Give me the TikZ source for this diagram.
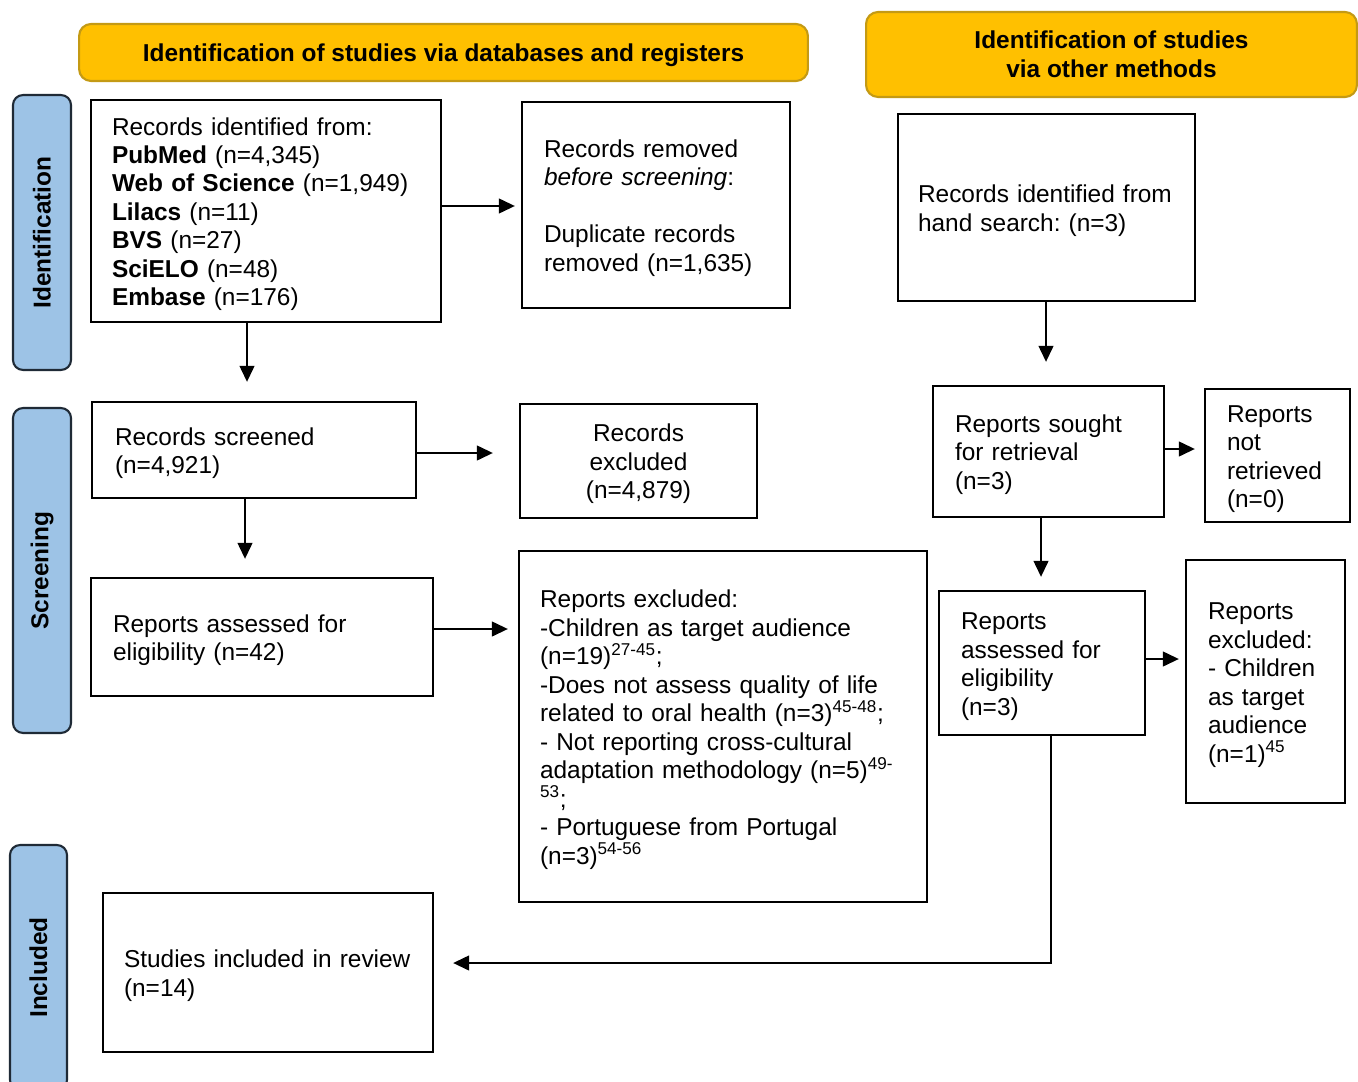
\documentclass[tikz,border=0pt]{standalone}
\usepackage{fontspec}
\setmainfont{Liberation Sans}
\usetikzlibrary{arrows.meta}
\definecolor{hdrfill}{HTML}{FFC000}
\definecolor{hdrline}{HTML}{C49A14}
\definecolor{sidefill}{HTML}{9DC3E6}
\definecolor{sideline}{HTML}{1F2A36}
\frenchspacing
\newcommand{\topstrut}{\rule{0pt}{13.6pt}}
\begin{document}
\begin{tikzpicture}[x=0.02cm,y=-0.02cm,
 font=\fontsize{13.9}{16.2}\selectfont,
 box/.style={draw=black,line width=1.4pt,align=left,inner ysep=0pt,execute at begin node={\topstrut}},
 cbox/.style={draw=black,line width=1.4pt,align=center,inner ysep=0pt,execute at begin node={\topstrut}},
 hdr/.style={draw=hdrline,fill=hdrfill,line width=1.2pt,rounded corners=0.24cm,align=center,inner sep=0pt,font=\fontsize{13.9}{16.2}\selectfont\bfseries},
 side/.style={draw=sideline,fill=sidefill,line width=1.2pt,rounded corners=0.2cm,rotate=90,inner sep=0pt,font=\fontsize{13.9}{16.2}\selectfont\bfseries},
 arr/.style={-{Triangle[length=0.32cm,width=0.3cm]},line width=0.75pt}]
\clip (0,0) rectangle (1358,1081);
\fill[white] (0,0) rectangle (1358,1081);

% headers
\node[hdr,minimum width=14.58cm,minimum height=1.14cm,text depth=0pt] (h1) at (443.5,52.5) {Identification of studies via databases and registers};
\node[hdr,minimum width=9.82cm,minimum height=1.7cm] (h2) at (1111.5,54.5) {Identification of studies\\via other methods};

% side labels
\node[side,minimum width=5.5cm,minimum height=1.16cm] (s1) at (42,232.5) {Identification};
\node[side,minimum width=6.5cm,minimum height=1.16cm] (s2) at (42,570.5) {Screening};
\node[side,minimum width=4.9cm,minimum height=1.14cm] (s3) at (38.5,967.5) {Included};

% left column boxes
\node[box,text width=6.16cm,inner xsep=0.42cm,minimum height=4.44cm] (A) at (266,211)
 {Records identified from:\\
  \textbf{PubMed} (n=4,345)\\
  \textbf{Web of Science} (n=1,949)\\
  \textbf{Lilacs} (n=11)\\
  \textbf{BVS} (n=27)\\
  \textbf{SciELO} (n=48)\\
  \textbf{Embase} (n=176)};
\node[box,text width=4.48cm,inner xsep=0.44cm,minimum height=4.12cm] (B) at (656,205)
 {Records removed\\
  \textit{before screening}:\\
  ~\\
  Duplicate records\\
  removed (n=1,635)};
\node[box,text width=5.56cm,inner xsep=0.46cm,minimum height=1.92cm] (C) at (254,450)
 {Records screened\\(n=4,921)};
\node[cbox,text width=4.14cm,inner xsep=0.3cm,minimum height=2.28cm] (D) at (638.5,461)
 {Records\\excluded\\(n=4,879)};
\node[box,text width=5.96cm,inner xsep=0.44cm,minimum height=2.36cm] (E) at (262,637)
 {Reports assessed for\\eligibility (n=42)};
\node[box,text width=7.32cm,inner xsep=0.42cm,minimum height=7.02cm] (F) at (723,726.5)
 {Reports excluded:\\
  -Children as target audience\\
  (n=19)\textsuperscript{27-45};\\
  -Does not assess quality of life\\
  related to oral health (n=3)\textsuperscript{45-48};\\
  - Not reporting cross-cultural\\
  adaptation methodology (n=5)\textsuperscript{49-}\\
  \textsuperscript{53};\\
  - Portuguese from Portugal\\
  (n=3)\textsuperscript{54-56}};
\node[box,text width=5.76cm,inner xsep=0.42cm,minimum height=3.18cm] (G) at (268,972.5)
 {\mbox{Studies included in review}\\(n=14)};

% right column boxes
\node[box,text width=5.14cm,inner xsep=0.4cm,minimum height=3.74cm] (H) at (1046.5,207.5)
 {Records identified from\\hand search: (n=3)};
\node[box,text width=3.74cm,inner xsep=0.44cm,minimum height=2.62cm] (I) at (1048.5,451.5)
 {Reports sought\\for retrieval\\(n=3)};
\node[box,text width=2.02cm,inner xsep=0.44cm,minimum height=2.66cm] (J) at (1277.5,455.5)
 {Reports\\not\\retrieved\\(n=0)};
\node[box,text width=3.24cm,inner xsep=0.44cm,minimum height=2.88cm] (K) at (1042,663)
 {Reports\\assessed for\\eligibility\\(n=3)};
\node[box,text width=2.3cm,inner xsep=0.44cm,minimum height=4.86cm] (L) at (1265.5,681.5)
 {Reports\\excluded:\\- Children\\as target\\audience\\(n=1)\textsuperscript{45}};

\coordinate (kturn) at (1051,963);

% connectors
\draw[arr,shorten >=0.12cm] ([yshift=0.1cm]A.east) -- ([yshift=0.1cm]A.east -| B.west);
\draw[arr,shorten >=0.38cm] ([xshift=-0.38cm]A.south) -- ([xshift=-0.38cm]A.south |- C.north);
\draw[arr,shorten >=0.52cm] ([yshift=-0.06cm]C.east) -- ([yshift=-0.06cm]C.east -| D.west);
\draw[arr,shorten >=0.36cm] ([xshift=-0.18cm]C.south) -- ([xshift=-0.18cm]C.south |- E.north);
\draw[arr,shorten >=0.2cm] ([yshift=0.16cm]E.east) -- ([yshift=0.16cm]E.east -| F.west);
\draw[arr,shorten >=0.46cm] ([xshift=-0.01cm]H.south) -- ([xshift=-0.01cm]H.south |- I.north);
\draw[arr,shorten >=0.18cm] ([yshift=0.05cm]I.east) -- ([yshift=0.05cm]I.east -| J.west);
\draw[arr,shorten >=0.26cm] ([xshift=-0.15cm]I.south) -- ([xshift=-0.15cm]I.south |- K.north);
\draw[arr,shorten >=0.12cm] ([yshift=0.08cm]K.east) -- ([yshift=0.08cm]K.east -| L.west);
\draw[arr,shorten >=0.38cm] (K.south -| kturn) -- (kturn) -- (G.east |- kturn);
\end{tikzpicture}
\end{document}
